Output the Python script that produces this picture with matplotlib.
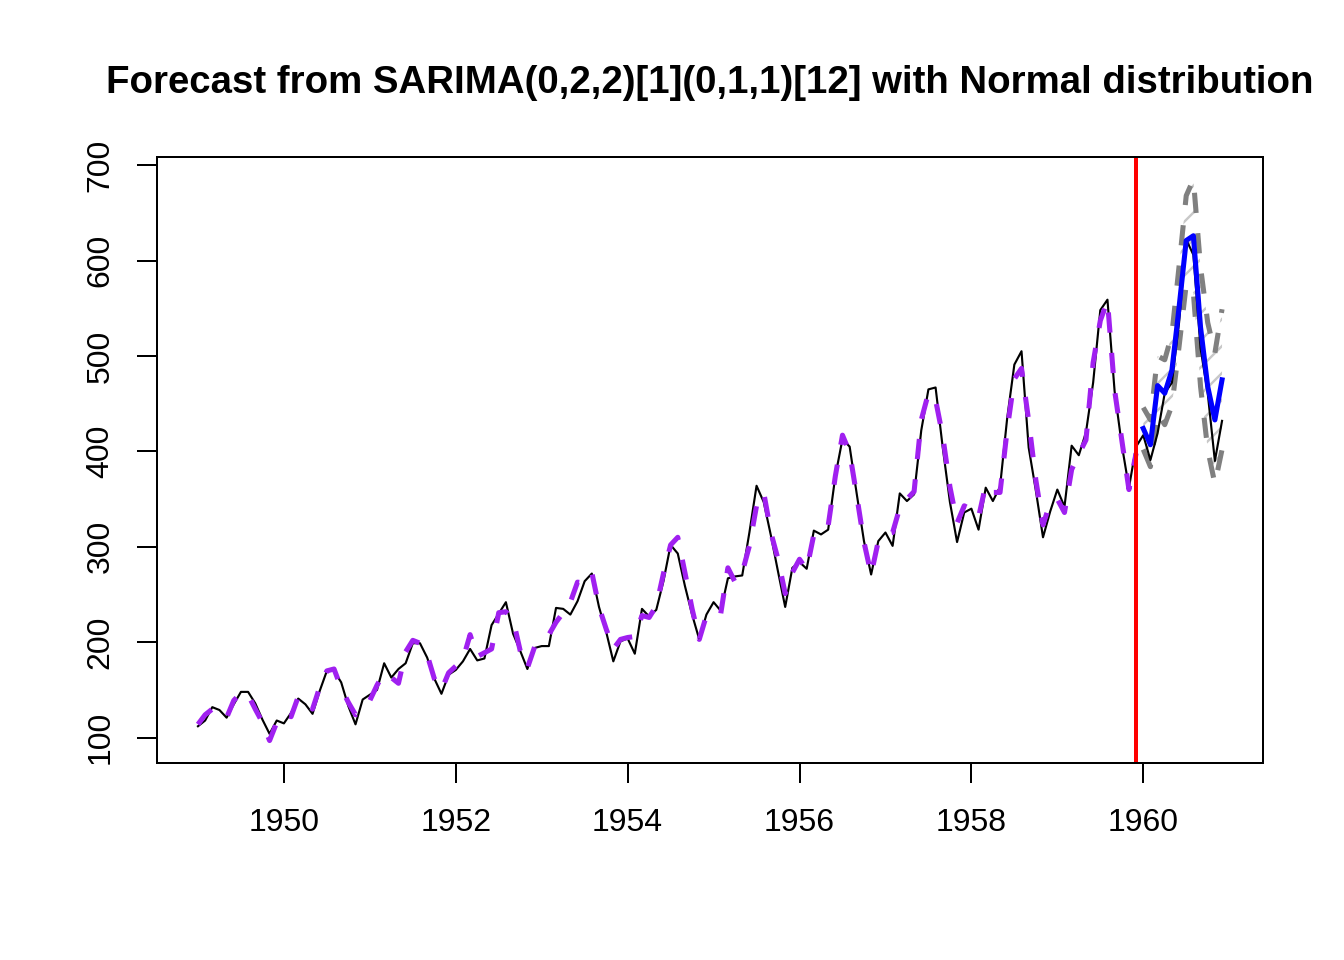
import numpy as np
import matplotlib
matplotlib.use("Agg")
import matplotlib.pyplot as plt
from matplotlib.collections import LineCollection

plt.rcParams["font.family"] = ["Liberation Sans", "DejaVu Sans"]

# monthly airline passengers, Jan 1949 - Dec 1960
actuals = [
    112, 118, 132, 129, 121, 135, 148, 148, 136, 119, 104, 118,
    115, 126, 141, 135, 125, 149, 170, 170, 158, 133, 114, 140,
    145, 150, 178, 163, 172, 178, 199, 199, 184, 162, 146, 166,
    171, 180, 193, 181, 183, 218, 230, 242, 209, 191, 172, 194,
    196, 196, 236, 235, 229, 243, 264, 272, 237, 211, 180, 201,
    204, 188, 235, 227, 234, 264, 302, 293, 259, 229, 203, 229,
    242, 233, 267, 269, 270, 315, 364, 347, 312, 274, 237, 278,
    284, 277, 317, 313, 318, 374, 413, 405, 355, 306, 271, 306,
    315, 301, 356, 348, 355, 422, 465, 467, 404, 347, 305, 336,
    340, 318, 362, 348, 363, 435, 491, 505, 404, 359, 310, 337,
    360, 342, 406, 396, 420, 472, 548, 559, 463, 407, 362, 405,
    417, 391, 419, 461, 472, 535, 622, 606, 508, 461, 390, 432,
]

# in-sample fitted values, Jan 1949 - Dec 1959
fitted = [
    114, 124, 130, 128, 121, 139, 147, 145, 130, 116, 97, 116,
    125, 122, 143, 139, 130, 153, 170, 172, 152, 137, 124, 134,
    139, 155, 168, 163, 157, 190, 202, 199, 187, 162, 150, 168,
    175, 182, 208, 185, 189, 193, 231, 232, 224, 191, 173, 195,
    203, 208, 221, 231, 242, 263, 262, 273, 237, 214, 193, 203,
    205, 206, 228, 226, 238, 272, 302, 310, 273, 235, 203, 228,
    231, 230, 278, 263, 273, 301, 343, 357, 315, 287, 251, 273,
    287, 276, 313, 318, 322, 374, 417, 399, 353, 305, 271, 306,
    313, 315, 341, 350, 358, 433, 461, 454, 416, 363, 325, 343,
    339, 331, 365, 357, 357, 423, 476, 487, 432, 370, 323, 346,
    350, 336, 381, 397, 412, 493, 537, 558, 464, 412, 360, 398,
]

# holdout forecast for 1960 with prediction interval
forecast = [424, 407, 469, 461, 485, 551, 621, 626, 530, 468, 433, 475]
upper = [446, 433, 500, 496, 523, 594, 668, 685, 593, 535, 503, 549]
lower = [402, 384, 440, 428, 448, 510, 575, 566, 468, 402, 366, 402]

title = "Forecast from SARIMA(0,2,2)[1](0,1,1)[12] with Normal distribution"

t_all = 1949 + np.arange(len(actuals)) / 12
t_fit = t_all[:len(fitted)]
t_fc = t_all[len(fitted):]

W, H = 1263 - 157, 763 - 157  # plot region in pixels
fig = plt.figure(figsize=(7, 5), dpi=192)
ax = fig.add_axes([157 / 1344, 1 - 763 / 960, W / 1344, H / 960])

# interval area shaded with thin 45 degree lines, like R polygon(density=10)
band = ax.fill_between(t_fc, lower, upper, facecolor="none", linewidth=0)
step = 27  # vertical spacing of the shading lines, pixels
segs = [[(0, -k * step / H), (1, (W - k * step) / H)]
        for k in range(-H // step - 1, W // step + 2)]
shade = LineCollection(segs, colors="#C8C8C8", linewidths=0.9,
                       transform=ax.transAxes)
ax.add_collection(shade, autolim=False)
shade.set_clip_path(band.get_paths()[0], ax.transData)

ax.plot(t_fc, upper, color="#808080", lw=1.9, dashes=(4, 4))
ax.plot(t_fc, lower, color="#808080", lw=1.9, dashes=(4, 4))

ax.plot(t_all, actuals, color="black", lw=0.8)
ax.plot(t_fit, fitted, color="#A020F0", lw=1.9, dashes=(4, 4))
ax.plot(t_fc, forecast, color="#0000FF", lw=1.9)
ax.axvline(t_fit[-1], color="#FF0000", lw=1.5)

ax.margins(x=0.04, y=0.04)
ax.set_xticks([1950, 1952, 1954, 1956, 1958, 1960])
ax.set_yticks([100, 200, 300, 400, 500, 600, 700])
ax.tick_params(length=7.5, width=0.75, labelsize=12, color="black")
ax.tick_params(axis="x", pad=9.5)
ax.tick_params(axis="y", pad=8, labelrotation=90)
for lbl in ax.get_yticklabels():
    lbl.set_va("center")
for side in ax.spines.values():
    side.set_linewidth(0.75)

ax.set_title(title, fontsize=14.4, fontweight="bold", pad=24)

fig.savefig("out.png", dpi=192)
